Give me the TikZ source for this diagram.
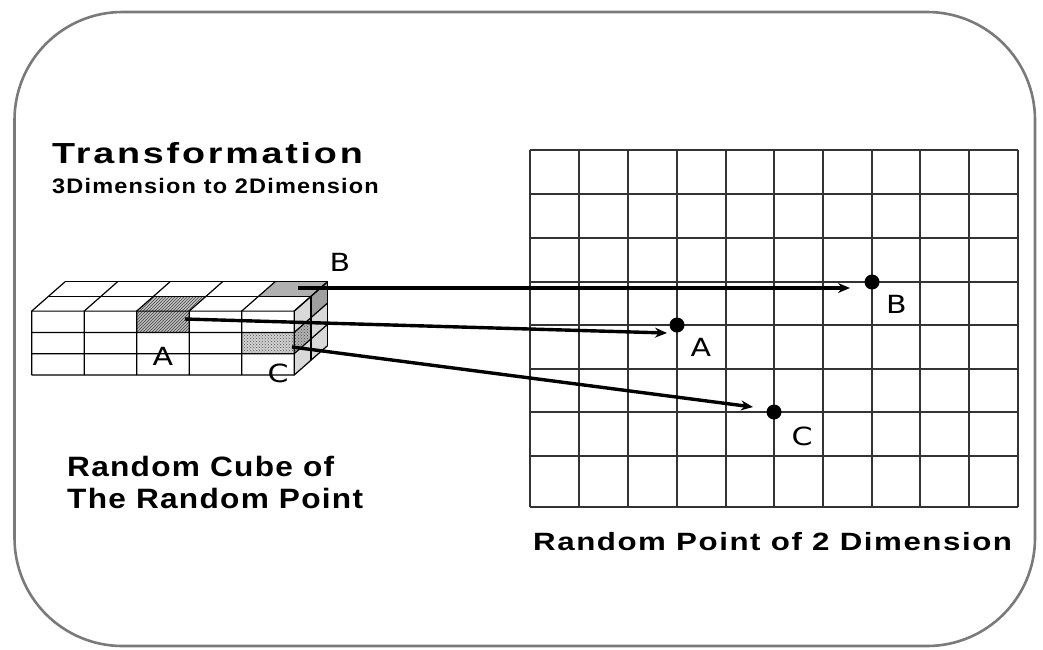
\documentclass[tikz,border=0pt]{standalone}
\usepackage{fontspec}
\setmainfont{Liberation Sans}
\newfontfamily\lblfont{DejaVu Sans}
\usetikzlibrary{patterns,arrows.meta}
\newcommand{\wtxt}[4]{\scalebox{#2}[1]{\fontsize{#1}{#1}\selectfont\bfseries\addfontfeatures{LetterSpace=#3}#4}}
\tikzset{
  frame/.style={draw=black!52, line width=2.6pt, rounded corners=108pt},
  gridline/.style={draw=black!80, line width=1.5pt},
  cubeline/.style={draw=black, line width=1.2pt},
  dot/.style={circle, fill=black, inner sep=0pt, minimum size=15pt},
  lbl/.style={inner sep=0pt, font=\lblfont\fontsize{25}{25}\selectfont},
  txt/.style={anchor=base west, inner sep=0pt},
  arr/.style={line width=3.4pt, -{Stealth[length=12pt,width=10pt]}},
  hatchA/.style={pattern=north east lines, pattern color=black!75},
  dotsC/.style={pattern=crosshatch dots, pattern color=black!70},
}
\begin{document}
\begin{tikzpicture}[x=1pt,y=-1pt]
\useasboundingbox (0,0) rectangle (1043,649);
\fill[white] (0,0) rectangle (1043,649);
\draw[frame] (14.5,12) rectangle (1035,646);

% titles
\node[txt] (title) at (52,163) {\wtxt{29}{1.3}{7.4}{Transformation}};
\node[txt] (subtitle) at (52,193) {\wtxt{21}{1.12}{5}{3Dimension to 2Dimension}};
\node[txt] (cubetext1) at (67,476) {\wtxt{28}{1.13}{4}{Random Cube of}};
\node[txt] (cubetext2) at (67,508) {\wtxt{28}{1.13}{4}{The Random Point}};
\node[txt] (gridtext) at (533,550) {\wtxt{25}{1.25}{5}{Random Point of 2 Dimension}};

% grid
\foreach \x in {530,579,628,677,726,774,823,872,920,969,1018}
  \draw[gridline] (\x,150) -- (\x,507);
\foreach \y in {150,194,238,282,325,369,412,456,507}
  \draw[gridline] (530,\y) -- (1018,\y);

% cube
\begin{scope}[shift={(31.7pt,-375pt)}, x={(52.5pt,0pt)}, y={(0pt,21.3pt)}, z={(16.7pt,14.7pt)}]
  \fill[gray!30] (5,0,0) -- (5,0,2) -- (5,3,2) -- (5,3,0) -- cycle;
  % A
  \fill[gray!50] (2,2,0) -- (3,2,0) -- (3,3,0) -- (2,3,0) -- cycle;
  \fill[hatchA] (2,2,0) -- (3,2,0) -- (3,3,0) -- (2,3,0) -- cycle;
  \fill[gray!45] (2,3,0) -- (3,3,0) -- (3,3,1) -- (2,3,1) -- cycle;
  \fill[hatchA] (2,3,0) -- (3,3,0) -- (3,3,1) -- (2,3,1) -- cycle;
  % C
  \fill[gray!35] (4,1,0) -- (5,1,0) -- (5,2,0) -- (4,2,0) -- cycle;
  \fill[dotsC] (4,1,0) -- (5,1,0) -- (5,2,0) -- (4,2,0) -- cycle;
  \fill[gray!60] (5,1,0) -- (5,1,1) -- (5,2,1) -- (5,2,0) -- cycle;
  \fill[dotsC] (5,1,0) -- (5,1,1) -- (5,2,1) -- (5,2,0) -- cycle;
  % B
  \fill[gray!62] (4,3,1) -- (5,3,1) -- (5,3,2) -- (4,3,2) -- cycle;
  \fill[gray!75] (5,2,1) -- (5,2,2) -- (5,3,2) -- (5,3,1) -- cycle;
  % lines
  \foreach \i in {0,...,5} \draw[cubeline] (\i,0,0) -- (\i,3,0) -- (\i,3,2);
  \foreach \j in {0,...,3} \draw[cubeline] (0,\j,0) -- (5,\j,0) -- (5,\j,2);
  \foreach \k in {1,2} \draw[cubeline] (0,3,\k) -- (5,3,\k) -- (5,0,\k);
\end{scope}

% cube labels
\node[lbl] (cubeB) at (340,262) {\scalebox{1.2}[1]{B}};
\node[lbl] (cubeA) at (163,356) {\scalebox{1.2}[1]{A}};
\node[lbl] (cubeC) at (278,373) {\scalebox{1.2}[1]{C}};

% points
\node[dot] (dB) at (872,282) {};
\node[dot] (dA) at (677,325) {};
\node[dot] (dC) at (774,412) {};
\node[lbl] (lB) at (896.5,304) {\scalebox{1.2}[1]{B}};
\node[lbl] (lA) at (701,347) {\scalebox{1.2}[1]{A}};
\node[lbl] (lC) at (802,436.5) {\scalebox{1.2}[1]{C}};

% arrows
\coordinate (sB) at (298,288);
\coordinate (sA) at (185,319);
\coordinate (sC) at (292,347);
\coordinate (eB) at (850,288);
\coordinate (eA) at (667,333);
\coordinate (eC) at (753,407);
\draw[arr] (sB) -- (eB);
\draw[arr] (sA) -- (eA);
\draw[arr] (sC) -- (eC);
\end{tikzpicture}
\end{document}
